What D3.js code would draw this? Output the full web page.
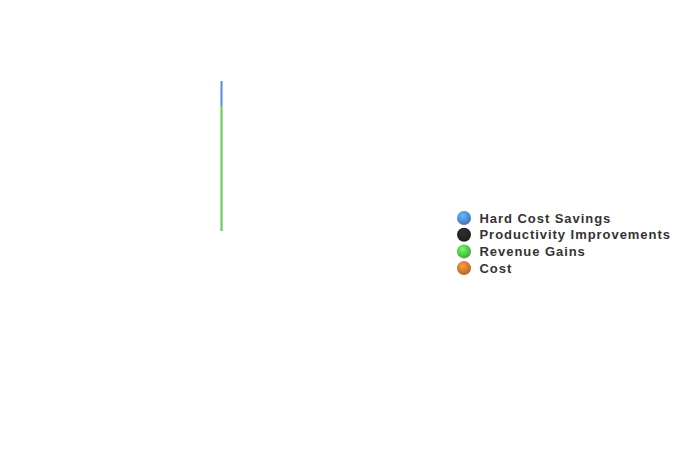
<!DOCTYPE html>
<html>
<head>
<meta charset="utf-8">
<script src="https://cdn.jsdelivr.net/npm/d3@7"></script>
<style>
  body { margin: 0; background: #fff; }
  svg text { font-family: "Liberation Sans", Arial, sans-serif; }
</style>
</head>
<body>
<div id="canvas"></div>
<script>
const categories = ["Total"];
const seriesNames = ["Hard Cost Savings", "Productivity Improvements", "Revenue Gains", "Cost"];
const seriesColors = ["#4a86cc", "#222222", "#4fbf45", "#d2732a"];
// values per series, one per category
const hardCost = [25];
const productivity = [0];
const revenue = [125];
const cost = [0];

const width = 700;
const height = 467;

const svg = d3.select("#canvas").append("svg")
  .attr("width", width)
  .attr("height", height);

const defs = svg.append("defs");
seriesColors.forEach((c, i) => {
  const grad = defs.append("radialGradient")
    .attr("id", "ball" + i)
    .attr("cx", "40%").attr("cy", "35%").attr("r", "65%");
  grad.append("stop").attr("offset", "0%").attr("stop-color", d3.color(c).brighter(0.9));
  grad.append("stop").attr("offset", "100%").attr("stop-color", d3.color(c).darker(0.4));
});

const table = categories.map((name, i) => ({
  name,
  "Revenue Gains": revenue[i],
  "Hard Cost Savings": hardCost[i],
  "Productivity Improvements": productivity[i],
  "Cost": cost[i]
}));

// stacked bottom to top
const stackOrder = ["Cost", "Revenue Gains", "Productivity Improvements", "Hard Cost Savings"];
const stacked = d3.stack().keys(stackOrder)(table);

const x = d3.scaleBand().domain(categories).range([219.5, 223.5]).padding(0.3);
const y = d3.scaleLinear().domain([0, 150]).range([231, 81]);

const barColors = { "Hard Cost Savings": "#5d93dd", "Productivity Improvements": "#222", "Revenue Gains": "#6ccb5e", "Cost": "#d2732a" };

svg.append("g")
  .selectAll("g")
  .data(stacked)
  .join("g")
  .attr("fill", d => barColors[d.key])
  .selectAll("rect")
  .data(d => d)
  .join("rect")
  .attr("x", d => x(d.data.name))
  .attr("y", d => y(d[1]))
  .attr("height", d => y(d[0]) - y(d[1]))
  .attr("width", x.bandwidth());

// legend
const legend = svg.append("g").attr("transform", "translate(464,218)");
const items = legend.selectAll("g")
  .data(seriesNames)
  .join("g")
  .attr("transform", (d, i) => `translate(0,${i * 16.7})`);

items.append("circle")
  .attr("r", 7)
  .attr("fill", (d, i) => `url(#ball${i})`);

items.append("text")
  .attr("x", 15.5)
  .attr("dy", "0.36em")
  .attr("font-size", 13)
  .attr("font-weight", "bold")
  .attr("fill", "#333")
  .attr("letter-spacing", 0.95)
  .text(d => d);
</script>
</body>
</html>
